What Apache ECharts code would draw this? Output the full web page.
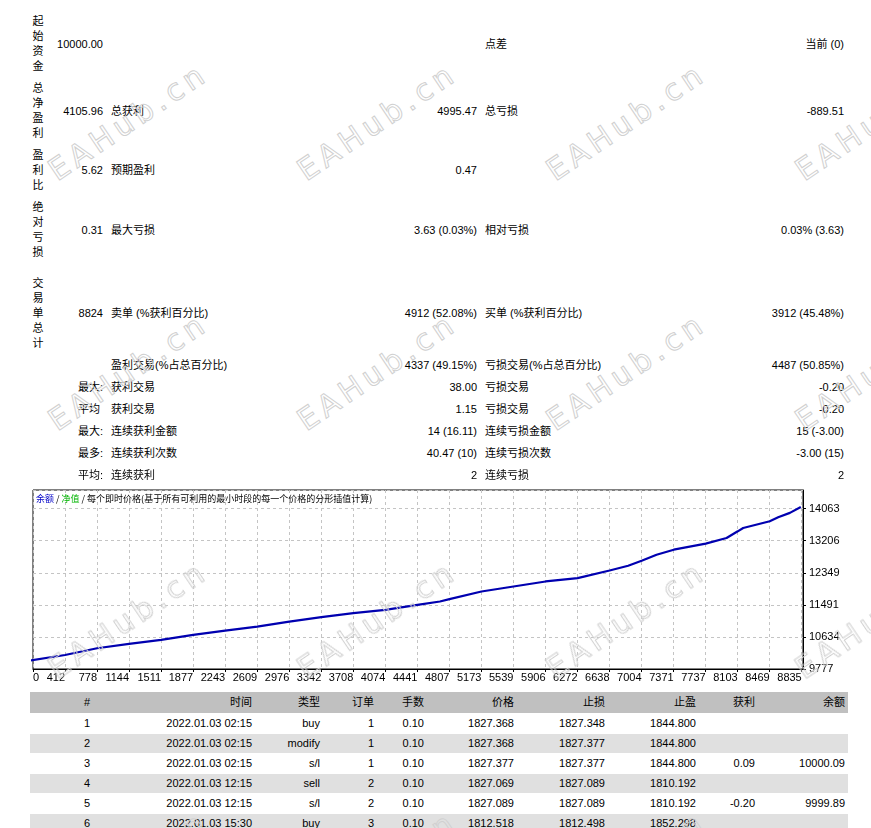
<!DOCTYPE html>
<html><head><meta charset="utf-8">
<script src="https://cdn.jsdelivr.net/npm/echarts@6/dist/echarts.min.js"></script>
<style>
html,body{margin:0;padding:0;background:#fff;width:871px;height:828px;overflow:hidden;}
body{position:relative;font-family:"Liberation Sans","Noto Sans CJK SC",sans-serif;font-size:11px;color:#000;}
.t{position:absolute;white-space:pre;line-height:14px;height:14px;}
.vc{position:absolute;left:32px;width:12px;text-align:center;line-height:15px;height:15px;}
.cell{position:absolute;box-sizing:border-box;text-align:right;padding-right:3px;white-space:pre;line-height:19px;}
.wm{position:absolute;font-family:"DejaVu Sans",sans-serif;font-size:30px;letter-spacing:5px;color:transparent;-webkit-text-stroke:1px #d0d0d0;transform-origin:0 100%;transform:rotate(-34deg);line-height:30px;height:30px;white-space:pre;pointer-events:none;z-index:10;}
#chart{position:absolute;left:0;top:480px;width:871px;height:210px;}
</style></head><body>
<div id="chart"></div>
<script>
// ---- summary block ----
const headLabels = ['起始资金','总净盈利','盈利比','绝对亏损','交易单总计'];
const headValues = ['10000.00','4105.96','5.62','0.31','8824'];
const midLabels = ['','总获利','预期盈利','最大亏损','卖单 (%获利百分比)'];
const midValues = ['','4995.47','0.47','3.63 (0.03%)','4912 (52.08%)'];
const rightLabels = ['点差','总亏损','','相对亏损','买单 (%获利百分比)'];
const rightValues = ['当前 (0)','-889.51','','0.03% (3.63)','3912 (45.48%)'];

const subPrefix = ['','最大:','平均 ','最大:','最多:','平均:'];
const winLabels = ['盈利交易(%占总百分比)','获利交易','获利交易','连续获利金额','连续获利次数','连续获利'];
const winValues = ['4337 (49.15%)','38.00','1.15','14 (16.11)','40.47 (10)','2'];
const lossLabels = ['亏损交易(%占总百分比)','亏损交易','亏损交易','连续亏损金额','连续亏损次数','连续亏损'];
const lossValues = ['4487 (50.85%)','-0.20','-0.20','15 (-3.00)','-3.00 (15)','2'];

// ---- deals table ----
const tableHeader = ['#','时间','类型','订单','手数','价格','止损','止盈','获利','余额'];
const dealNo = ['1','2','3','4','5','6'];
const dealTime = ['2022.01.03 02:15','2022.01.03 02:15','2022.01.03 02:15','2022.01.03 12:15','2022.01.03 12:15','2022.01.03 15:30'];
const dealType = ['buy','modify','s/l','sell','s/l','buy'];
const dealOrder = ['1','1','1','2','2','3'];
const dealLots = ['0.10','0.10','0.10','0.10','0.10','0.10'];
const dealPrice = ['1827.368','1827.368','1827.377','1827.069','1827.089','1812.518'];
const dealSL = ['1827.348','1827.377','1827.377','1827.089','1827.089','1812.498'];
const dealTP = ['1844.800','1844.800','1844.800','1810.192','1810.192','1852.298'];
const dealProfit = ['','','0.09','','-0.20',''];
const dealBalance = ['','','10000.09','','9999.89',''];

// ---- chart ----
const legendText = '每个即时价格(基于所有可利用的最小时段的每一个价格的分形插值计算)';
const xTickLabels = ['0','412','778','1144','1511','1877','2243','2609','2976','3342','3708','4074','4441','4807','5173','5539','5906','6272','6638','7004','7371','7737','8103','8469','8835'];
const yTickLabels = ['9777','10634','11491','12349','13206','14063'];
const tradeNo = [0,412,778,1144,1511,1877,2243,2609,2976,3342,3708,4074,4441,4698,4807,5173,5539,5906,6272,6638,6850,7004,7175,7371,7737,7975,8103,8165,8469,8565,8584,8699,8824];
const balance = [10000,10152,10331,10447,10554,10688,10803,10910,11044,11162,11269,11357,11491,11580,11643,11848,11982,12116,12206,12410,12536,12670,12831,12965,13126,13278,13456,13546,13725,13832,13885,13949,14106];

const watermarkText = 'EAHub.cn';

// ---------- layout helpers ----------
const W = 871;
function put(text, opts) {
  const d = document.createElement('div');
  d.className = 't';
  d.textContent = text;
  d.style.top = (opts.cy - 7) + 'px';
  if (opts.right != null) { d.style.right = (W - opts.right) + 'px'; d.style.textAlign = 'right'; }
  else d.style.left = opts.left + 'px';
  document.body.appendChild(d);
}
const headCY = [44, 111, 170, 230, 313];
headLabels.forEach((lab, i) => {
  const chars = Array.from(lab);
  const top0 = headCY[i] - chars.length * 15 / 2;
  chars.forEach((c, j) => {
    const d = document.createElement('div');
    d.className = 'vc'; d.textContent = c; d.style.top = (top0 + j * 15) + 'px';
    document.body.appendChild(d);
  });
  put(headValues[i], {right: 103, cy: headCY[i]});
  if (midLabels[i]) put(midLabels[i], {left: 111, cy: headCY[i]});
  if (midValues[i]) put(midValues[i], {right: 477, cy: headCY[i]});
  if (rightLabels[i]) put(rightLabels[i], {left: 485, cy: headCY[i]});
  if (rightValues[i]) put(rightValues[i], {right: 844, cy: headCY[i]});
});
const subCY = [365, 387, 409, 431, 453, 475];
subPrefix.forEach((p, i) => {
  if (p) put(p, {right: 103, cy: subCY[i]});
  put(winLabels[i], {left: 111, cy: subCY[i]});
  put(winValues[i], {right: 477, cy: subCY[i]});
  put(lossLabels[i], {left: 485, cy: subCY[i]});
  put(lossValues[i], {right: 844, cy: subCY[i]});
});

// table
const colLeft = [30, 93, 255, 323, 377, 427, 517, 608, 699, 758];
const colRight = [92, 254, 322, 376, 426, 516, 607, 698, 757, 847];
function cell(text, c, top, h, bg) {
  const d = document.createElement('div');
  d.className = 'cell';
  d.textContent = text;
  d.style.left = colLeft[c] + 'px';
  d.style.width = (colRight[c] - colLeft[c] + 1) + 'px';
  d.style.top = top + 'px';
  d.style.height = h + 'px';
  d.style.lineHeight = h + 'px';
  if (bg) d.style.background = bg;
  document.body.appendChild(d);
}
tableHeader.forEach((h, c) => cell(h, c, 692, 21, '#c0c0c0'));
const cols = [dealNo, dealTime, dealType, dealOrder, dealLots, dealPrice, dealSL, dealTP, dealProfit, dealBalance];
dealNo.forEach((_, r) => {
  const top = 714 + r * 20;
  const bg = (r % 2 === 1) ? '#e0e0e0' : null;
  cols.forEach((arr, c) => cell(arr[r], c, top, 19, bg));
});

// watermarks
[60, 309, 558, 807].forEach(x => {
  [180, 430, 678, 928].forEach(y => {
    const d = document.createElement('div');
    d.className = 'wm';
    d.textContent = watermarkText;
    d.style.left = x + 'px';
    d.style.top = (y - 24) + 'px';
    document.body.appendChild(d);
  });
});

// chart
const X0 = 45.8, XI = 366.2, Y0 = 9777, YI = 857.2;
function tickLabel(arr, v, base, step) {
  const i = Math.round((v - base) / step);
  if (i < 0 || i >= arr.length || Math.abs(base + i * step - v) > 0.5) return '';
  return arr[i];
}
const chart = echarts.init(document.getElementById('chart'));
chart.setOption({
  animation: false,
  backgroundColor: '#fff',
  title: {
    text: '{b|余额} / {g|净值} / ' + legendText,
    left: 36, top: 14, padding: 0,
    textStyle: {
      fontSize: 9, fontWeight: 'normal', color: '#000',
      fontFamily: '"Noto Sans CJK SC", sans-serif',
      rich: {
        b: {color: '#0000c8', fontSize: 9, fontFamily: '"Noto Sans CJK SC", sans-serif'},
        g: {color: '#00b400', fontSize: 9, fontFamily: '"Noto Sans CJK SC", sans-serif'}
      }
    }
  },
  grid: {left: 33, top: 10, right: 68, bottom: 21, show: true, borderColor: '#000', borderWidth: 1, backgroundColor: 'transparent'},
  xAxis: {
    type: 'value', min: X0, max: 8849, interval: XI,
    axisLine: {show: true, lineStyle: {color: '#000', width: 1}},
    axisTick: {show: true, inside: false, length: 3, lineStyle: {color: '#000'}},
    axisLabel: {
      margin: 3, align: 'right', alignMinLabel: 'left', showMaxLabel: false,
      color: '#000', fontSize: 11, fontFamily: '"Liberation Sans", sans-serif',
      formatter: v => tickLabel(xTickLabels, v, X0, XI)
    },
    splitLine: {show: true, lineStyle: {color: '#c4c4c4', type: [3, 3], width: 1}}
  },
  yAxis: {
    type: 'value', position: 'right', min: Y0, max: 14560, interval: YI,
    axisLine: {show: true, lineStyle: {color: '#000', width: 1}},
    axisTick: {show: true, inside: false, length: 3, lineStyle: {color: '#000'}},
    axisLabel: {
      margin: 6, showMaxLabel: false,
      color: '#000', fontSize: 11, fontFamily: '"Liberation Sans", sans-serif',
      formatter: v => tickLabel(yTickLabels, v, Y0, YI)
    },
    splitLine: {show: true, lineStyle: {color: '#c4c4c4', type: [3, 3], width: 1}}
  },
  series: [{
    type: 'line',
    data: tradeNo.map((t, i) => [t, balance[i]]),
    showSymbol: false,
    clip: true,
    lineStyle: {color: '#0000b0', width: 2.2},
    itemStyle: {color: '#0000b0'}
  }]
});
</script>
</body></html>
